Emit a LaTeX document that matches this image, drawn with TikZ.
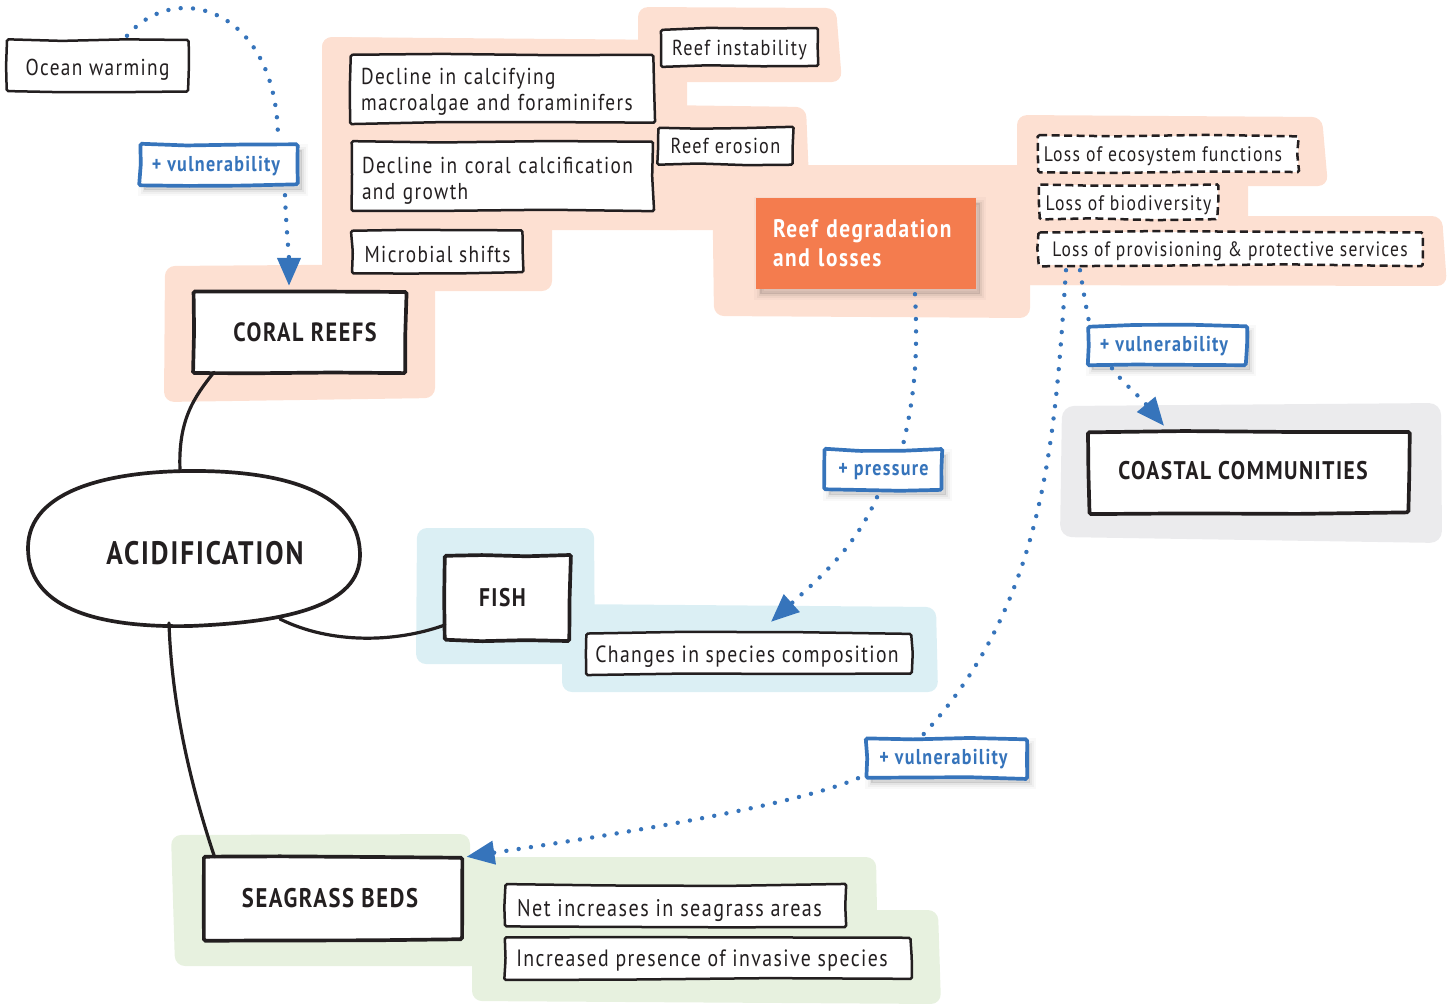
\documentclass[tikz,border=0pt]{standalone}
\usepackage{fontspec}
\setmainfont[FakeStretch=0.84,LetterSpace=6]{PT Sans}
\usetikzlibrary{arrows.meta,shadows,calc}
\definecolor{ink}{HTML}{231F20}
\definecolor{peach}{HTML}{FDE0D2}
\definecolor{sky}{HTML}{DBEFF4}
\definecolor{sage}{HTML}{E7F1DF}
\definecolor{mist}{HTML}{EBEBED}
\definecolor{linkblue}{HTML}{3674BB}
\definecolor{flame}{HTML}{F47C4E}
\newcommand{\sketchbox}[2]{%
  \draw[#2,rounded corners=1.5pt]
    ($(#1.north west)+({1.1*rand},{1.1*rand})$) --
    ($(#1.north west)!0.3!(#1.north east)+({1.1*rand},{1.1*rand})$) --
    ($(#1.north west)!0.65!(#1.north east)+({1.1*rand},{1.1*rand})$) --
    ($(#1.north east)+({1.1*rand},{1.1*rand})$) --
    ($(#1.east)+({1.1*rand},{1.1*rand})$) --
    ($(#1.south east)+({1.1*rand},{1.1*rand})$) --
    ($(#1.south west)!0.65!(#1.south east)+({1.1*rand},{1.1*rand})$) --
    ($(#1.south west)!0.3!(#1.south east)+({1.1*rand},{1.1*rand})$) --
    ($(#1.south west)+({1.1*rand},{1.1*rand})$) --
    ($(#1.west)+({1.1*rand},{1.1*rand})$) -- cycle;}
\newcommand{\txt}[2]{\fontsize{#1}{#2}\selectfont}
\tikzset{
  x=1pt,y=-1pt,
  softshadow/.style={
    general shadow={draw=black,fill=black,line width=12pt,opacity=.025,shadow xshift=4pt,shadow yshift=-5pt},
    general shadow={draw=black,fill=black,line width=7pt,opacity=.035,shadow xshift=4pt,shadow yshift=-5pt},
    general shadow={draw=black,fill=black,line width=3pt,opacity=.05,shadow xshift=4pt,shadow yshift=-5pt}},
  smallbox/.style={fill=white,text=ink,inner sep=0pt,font=\fontsize{23}{26}\selectfont},
  leftbox/.style={smallbox,align=left,inner xsep=10pt},
  lossbox/.style={smallbox,font=\fontsize{21}{24}\selectfont},
  bigbox/.style={fill=white,text=ink,inner sep=0pt,font=\bfseries\fontsize{25.5}{28}\selectfont},
  tagbox/.style={softshadow,fill=white,text=linkblue,inner sep=0pt,font=\bfseries\fontsize{21.5}{26}\selectfont},
  drop/.style={text height=#1pt,text depth=0pt},
  thinline/.style={draw=ink,line width=2.5pt},
  thickline/.style={draw=ink,line width=3.7pt},
  dashline/.style={draw=ink,line width=2.5pt,dash pattern=on 8pt off 4.5pt},
  tagline/.style={draw=linkblue,line width=3.7pt},
  tie/.style={draw=ink,line width=3.2pt,line cap=round},
  dots/.style={draw=linkblue,line width=4.4pt,line cap=round,dash pattern=on 0pt off 12.4pt},
  dotsarrow/.style={dots,-{Triangle[length=28pt,width=23pt,fill=linkblue]}},
  patch/.style={rounded corners=10pt},
}
\begin{document}
\begin{tikzpicture}
\useasboundingbox (0,0) rectangle (1453,1005);
\pgfmathsetseed{7}
% background areas
\fill[peach,patch] (165,266) -- (435,264) -- (435,398) -- (164,402) -- cycle;
\fill[peach,patch] (322,37) -- (552,40) -- (552,291) -- (322,291) -- cycle;
\fill[peach,patch] (322,37) -- (687,40) -- (687,230) -- (322,230) -- cycle;
\fill[peach,patch] (638,7) -- (836,8) -- (842,82) -- (638,82) -- cycle;
\fill[peach,patch] (660,105) -- (806,107) -- (811,230) -- (660,230) -- cycle;
\fill[peach,patch] (712,165) -- (1030,165) -- (1030,318) -- (714,316) -- cycle;
\fill[peach,patch] (1017,115) -- (1322,117) -- (1328,186) -- (1017,186) -- cycle;
\fill[peach,patch] (1017,150) -- (1248,150) -- (1248,285) -- (1017,285) -- cycle;
\fill[peach,patch] (1017,216) -- (1442,216) -- (1447,286) -- (1017,285) -- cycle;
\fill[sky,patch] (417,528) -- (594,528) -- (595,664) -- (416,664) -- cycle;
\fill[sky,patch] (562,604) -- (936,607) -- (938,692) -- (562,692) -- cycle;
\fill[sage,patch] (171,835) -- (470,834) -- (470,966) -- (175,966) -- cycle;
\fill[sage,patch] (440,857) -- (876,857) -- (878,966) -- (440,966) -- cycle;
\fill[sage,patch] (472,910) -- (938,910) -- (941,1004) -- (472,1001) -- cycle;
\fill[mist,rounded corners=12pt] (1062,406) -- (1441,403) -- (1442,543) -- (1060,537) -- cycle;
% acidification outline
\draw[ink,line width=3.7pt,fill=white] (28,548) .. controls (28,490) and (110,470) .. (200,471) .. controls (300,472) and (360,500) .. (360,555) .. controls (360,605) and (290,622) .. (190,626) .. controls (90,628) and (28,605) .. (28,548) -- cycle;
\node[text=ink,inner sep=0pt,font=\bfseries\fontsize{32.5}{36}\selectfont] (acid) at (205,553) {ACIDIFICATION};
% boxes
\node[smallbox,drop=19,minimum width=181pt,minimum height=51pt] (ocean) at (97.5,65.5) {Ocean warming};
\node[leftbox,text width=283pt,minimum height=68pt] (calc) at (502.5,89) {\rule{0pt}{21pt}Decline in calcifying\\macroalgae and foraminifers};
\node[smallbox,drop=15,font=\txt{21.7}{26},minimum width=157pt,minimum height=37pt] (instab) at (739.5,47.5) {Reef instability};
\node[leftbox,text width=281pt,minimum height=68pt] (growth) at (502.5,176) {\rule{0pt}{25pt}Decline in coral calcification\\and growth};
\node[smallbox,drop=14,font=\txt{21.7}{26},minimum width=135pt,minimum height=36pt] (erosion) at (725.5,146) {Reef erosion};
\node[smallbox,drop=21,minimum width=171pt,minimum height=43pt] (microbial) at (437.5,251.5) {Microbial shifts};
\node[bigbox,font=\bfseries\txt{26.4}{28},minimum width=212pt,minimum height=80pt] (coral) at (300,332) {\hspace*{10pt}CORAL REEFS};
\node[softshadow,fill=flame,text=white,inner ysep=0pt,inner xsep=17pt,text width=186pt,minimum height=91pt,align=left,font=\bfseries\txt{25.4}{29}] (degr) at (866,243.5) {Reef degradation\\and losses};
\node[lossbox,drop=14,minimum width=260pt,minimum height=36pt] (eco) at (1168,154) {\hspace*{-10pt}Loss of ecosystem functions};
\node[lossbox,drop=16,minimum width=179pt,minimum height=34pt] (biod) at (1128.5,202) {Loss of biodiversity};
\node[lossbox,drop=15,font=\txt{20.8}{24},minimum width=384pt,minimum height=33pt] (prov) at (1230,248.5) {Loss of provisioning \& protective services};
\node[tagbox,drop=12,minimum width=158pt,minimum height=40pt] (vone) at (219,165) {\hspace*{-6pt}+ vulnerability};
\node[tagbox,drop=11,minimum width=158pt,minimum height=39pt] (vtwo) at (1167,345.5) {\hspace*{-6pt}+ vulnerability};
\node[tagbox,drop=10,minimum width=117pt,minimum height=40pt] (press) at (883.5,470) {+ pressure};
\node[tagbox,drop=11,minimum width=159pt,minimum height=39pt] (vthree) at (946.5,758.5) {\hspace*{-6pt}+ vulnerability};
\node[bigbox,drop=14,minimum width=320pt,minimum height=81pt] (coastal) at (1249,472.5) {\hspace*{-12pt}COASTAL COMMUNITIES};
\node[bigbox,minimum width=125pt,minimum height=84pt] (fish) at (507.5,598) {\hspace*{-10pt}FISH};
\node[smallbox,drop=17,font=\txt{23.4}{26},minimum width=326pt,minimum height=41pt] (changes) at (749,653.5) {\hspace*{-4pt}Changes in species composition};
\node[bigbox,font=\bfseries\txt{26.9}{28},minimum width=259pt,minimum height=83pt] (seagrass) at (332.5,898.5) {\hspace*{-5pt}SEAGRASS BEDS};
\node[smallbox,drop=20,font=\txt{24}{26},minimum width=340pt,minimum height=42pt] (net) at (675,906) {\hspace*{-11pt}Net increases in seagrass areas};
\node[smallbox,drop=16,font=\txt{23.6}{26},minimum width=406pt,minimum height=42pt] (incr) at (708,958) {\hspace*{-12pt}Increased presence of invasive species};
% hand-drawn outlines
\sketchbox{ocean}{thinline}
\sketchbox{calc}{thinline}
\sketchbox{instab}{thinline}
\sketchbox{growth}{thinline}
\sketchbox{erosion}{thinline}
\sketchbox{microbial}{thinline}
\sketchbox{changes}{thinline}
\sketchbox{net}{thinline}
\sketchbox{incr}{thinline}
\sketchbox{coral}{thickline}
\sketchbox{coastal}{thickline}
\sketchbox{fish}{thickline}
\sketchbox{seagrass}{thickline}
\sketchbox{eco}{dashline}
\sketchbox{biod}{dashline}
\sketchbox{prov}{dashline}
\sketchbox{vone}{tagline}
\sketchbox{vtwo}{tagline}
\sketchbox{press}{tagline}
\sketchbox{vthree}{tagline}
% anchors on the acidification outline
\coordinate (acidtop) at (180,470);
\coordinate (acidright) at (280,619);
\coordinate (acidbottom) at (169,623);
% connectors
\draw[tie] ([xshift=-86pt]coral.south) .. controls +(-20,25) and +(-2,-50) .. (acidtop);
\draw[tie] ([yshift=-27pt]fish.west) .. controls +(-50,18) and +(50,25) .. (acidright);
\draw[tie] (acidbottom) .. controls +(3,90) and +(-20,-60) .. ([xshift=-118pt]seagrass.north);
% dotted links
\draw[dots] ([xshift=29.5pt,yshift=4pt]ocean.north) .. controls +(50,-58) and +(0,-130) .. ([xshift=59pt,yshift=5pt]vone.north);
\draw[dotsarrow] ([xshift=66pt,yshift=-10pt]vone.south) .. controls +(1,30) and +(0,-30) .. ([xshift=-11pt,yshift=6pt]coral.north);
\draw[dots] ([xshift=49pt,yshift=-5pt]degr.south) .. controls +(3,60) and +(12,-50) .. ([xshift=19.5pt,yshift=5pt]press.north);
\draw[dotsarrow] ([xshift=-6.5pt,yshift=-7pt]press.south) .. controls +(-22,50) and +(50,-45) .. ([xshift=22pt,yshift=11pt]changes.north);
\draw[dots] ([xshift=-150pt,yshift=-5pt]prov.south) .. controls +(3,18) and +(-4,-20) .. ([xshift=-78pt,yshift=4pt]vtwo.north);
\draw[dotsarrow] ([xshift=-55pt,yshift=-3pt]vtwo.south) .. controls +(10,14) and +(-25,-30) .. ([xshift=-85pt,yshift=6pt]coastal.north);
\draw[dots] ([xshift=-164pt,yshift=-5pt]prov.south) .. controls +(-11,160) and +(125,-135) .. ([xshift=-23.5pt,yshift=4pt]vthree.north);
\draw[dotsarrow] ([xshift=-88.5pt]vthree.south) .. controls +(-70,30) and +(120,-18) .. ([xshift=134pt]seagrass.north);
\end{tikzpicture}
\end{document}
